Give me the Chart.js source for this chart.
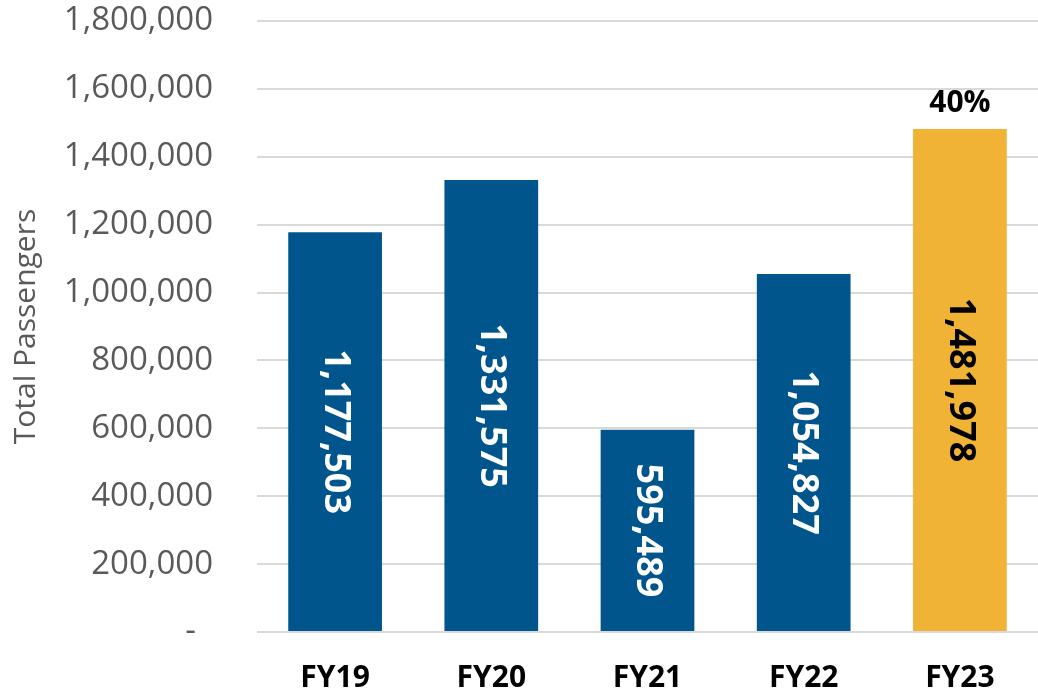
<!DOCTYPE html>
<html>
<head>
<meta charset="utf-8">
<script src="https://cdn.jsdelivr.net/npm/chart.js@4"></script>
<style>
  html, body { margin: 0; padding: 0; background: #fff; }
  #wrap { width: 1038px; height: 698px; }
</style>
</head>
<body>
<div id="wrap"><canvas id="grafico"></canvas></div>
<script>
const anos = ["FY19", "FY20", "FY21", "FY22", "FY23"];
const passageiros = [1177503, 1331575, 595489, 1054827, 1481978];
const coresBarras = ["#00558C", "#00558C", "#00558C", "#00558C", "#F0B336"];
const coresTexto = ["#ffffff", "#ffffff", "#ffffff", "#ffffff", "#000000"];
const destaque = ["", "", "", "", "40%"];

const fonte = "'Open Sans', 'Liberation Sans', sans-serif";

// escreve os valores dentro das barras (girados) e o percentual acima da última
const rotulosBarras = {
    id: "rotulosBarras",
    afterDatasetsDraw(chart) {
        const ctx = chart.ctx;
        const meta = chart.getDatasetMeta(0);
        meta.data.forEach((bar, i) => {
            const meio = (bar.y + bar.base) / 2;
            ctx.save();
            ctx.translate(bar.x, meio);
            ctx.rotate(Math.PI / 2);
            ctx.font = "bold 36px " + fonte;
            ctx.fillStyle = coresTexto[i];
            ctx.textAlign = "center";
            ctx.textBaseline = "middle";
            ctx.fillText(passageiros[i].toLocaleString("en-US"), 0, 0);
            ctx.restore();

            if (destaque[i]) {
                ctx.save();
                ctx.font = "bold 30px " + fonte;
                ctx.fillStyle = "#000";
                ctx.textAlign = "center";
                ctx.textBaseline = "bottom";
                ctx.fillText(destaque[i], bar.x, bar.y - 10);
                ctx.restore();
            }
        });
    }
};

new Chart(document.getElementById("grafico"), {
    type: "bar",
    data: {
        labels: anos,
        datasets: [{
            data: passageiros,
            backgroundColor: coresBarras,
            categoryPercentage: 1,
            barPercentage: 0.6
        }]
    },
    options: {
        responsive: true,
        maintainAspectRatio: false,
        animation: false,
        layout: { autoPadding: false, padding: { top: 21, right: 0, bottom: 2, left: 0 } },
        plugins: {
            legend: { display: false },
            tooltip: { enabled: false }
        },
        scales: {
            x: {
                grid: { display: false, drawTicks: false },
                border: { display: false },
                ticks: {
                    color: "#000",
                    font: { family: fonte, size: 30, weight: "bold" },
                    padding: 28
                },
                afterFit(scale) {
                    scale.height = 64;
                    scale.paddingLeft = 0;
                    scale.paddingRight = 0;
                }
            },
            y: {
                min: 0,
                max: 1800000,
                border: { display: false },
                grid: { color: "#d9d9d9", lineWidth: 2, drawTicks: false },
                ticks: {
                    stepSize: 200000,
                    color: "#595959",
                    font: { family: fonte, size: 33 },
                    padding: 44,
                    callback: v => v === 0 ? "-  " : v.toLocaleString("en-US")
                },
                title: {
                    display: true,
                    text: "Total Passengers",
                    color: "#595959",
                    font: { family: fonte, size: 30 },
                    padding: { top: 8, bottom: 0 }
                },
                afterFit(scale) {
                    scale.width = 257;
                    scale.paddingTop = 0;
                    scale.paddingBottom = 0;
                }
            }
        }
    },
    plugins: [rotulosBarras]
});
</script>
</body>
</html>
